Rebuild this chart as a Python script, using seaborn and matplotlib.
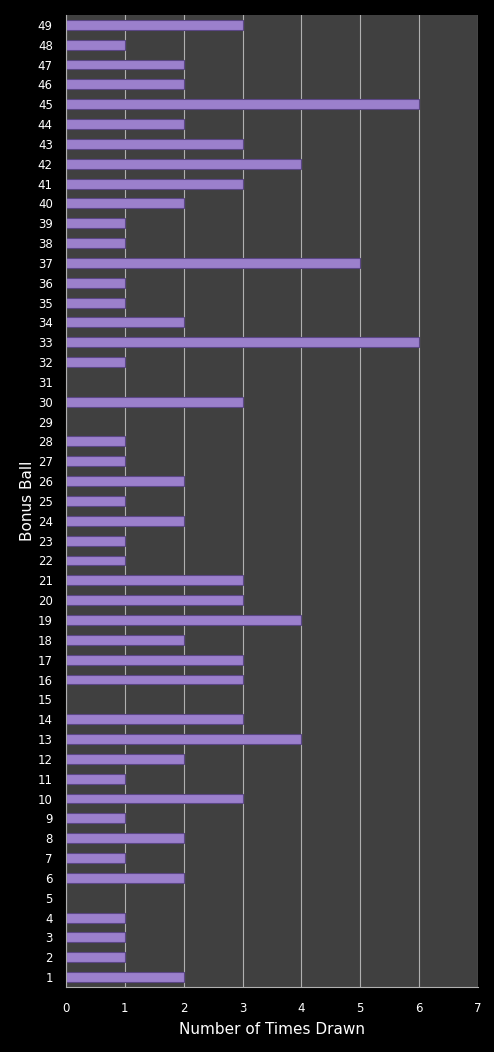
import pandas as pd
import seaborn as sns
import matplotlib.pyplot as plt

balls = list(range(1, 50))
times_drawn = [2, 1, 1, 1, 0, 2, 1, 2, 1, 3,
               1, 2, 4, 3, 0, 3, 3, 2, 4, 3,
               3, 1, 1, 2, 1, 2, 1, 1, 0, 3,
               0, 1, 6, 2, 1, 1, 5, 1, 1, 2,
               3, 4, 3, 2, 6, 2, 2, 1, 3]

df = pd.DataFrame({"Bonus Ball": [str(b) for b in balls], "Times": times_drawn})
order = [str(b) for b in reversed(balls)]

fig = plt.figure(figsize=(4.94, 10.52), dpi=100, facecolor="black")
ax = fig.add_axes([0.1336, 0.0618, 0.834, 0.924])
ax.set_facecolor("#404040")

sns.barplot(data=df, x="Times", y="Bonus Ball", order=order, orient="h",
            color="#9b80cc", edgecolor="#5b4785", linewidth=0.8,
            width=0.5, saturation=1, ax=ax)

ax.set_xlim(0, 7)
ax.set_xticks(range(0, 8))
ax.xaxis.grid(True, color="#b0b0b0", linewidth=0.8)
ax.set_axisbelow(True)
for side in ["top", "right"]:
    ax.spines[side].set_visible(False)
for side in ["left", "bottom"]:
    ax.spines[side].set_color("#b0b0b0")
ax.tick_params(colors="white", labelsize=8.5, length=0)
ax.tick_params(axis="x", pad=11)
ax.tick_params(axis="y", pad=9.5)
ax.set_xlabel("Number of Times Drawn", color="white", fontsize=11, labelpad=5)
ax.set_ylabel("Bonus Ball", color="white", fontsize=11, labelpad=2)

fig.savefig("out.png", dpi=100, facecolor="black")
